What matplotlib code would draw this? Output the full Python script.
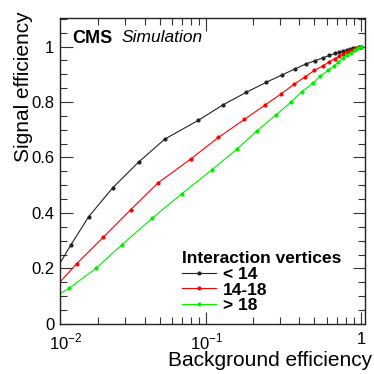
import matplotlib
matplotlib.use("Agg")
import matplotlib.pyplot as plt
from matplotlib.ticker import FixedLocator, FixedFormatter, LogLocator, MultipleLocator, NullFormatter

plt.rcParams["font.family"] = ["Liberation Sans", "DejaVu Sans"]
plt.rcParams["mathtext.fontset"] = "custom"
plt.rcParams["mathtext.rm"] = "Liberation Sans"

# ROC curves (background eff, signal eff)
bkg_lt14 = [0.0105, 0.01334, 0.01742, 0.0249, 0.0365, 0.0539, 0.0889, 0.1277, 0.1815,
            0.2442, 0.3076, 0.3733, 0.4395, 0.5058, 0.5664, 0.6253, 0.6808, 0.7263,
            0.7696, 0.809, 0.851, 0.894, 0.929, 0.966, 1.0]
sig_lt14 = [0.187, 0.285, 0.387, 0.491, 0.583, 0.666, 0.734, 0.789, 0.835,
            0.871, 0.897, 0.919, 0.937, 0.949, 0.959, 0.968, 0.975, 0.980,
            0.985, 0.988, 0.991, 0.994, 0.996, 0.998, 1.0]

bkg_mid = [0.0105, 0.01452, 0.02167, 0.0325, 0.0487, 0.0796, 0.1197, 0.1762, 0.2383,
           0.306, 0.3715, 0.4375, 0.500, 0.5664, 0.6253, 0.676, 0.7263, 0.77, 0.81,
           0.85, 0.89, 0.93, 0.97, 1.0]
sig_mid = [0.130, 0.217, 0.313, 0.412, 0.508, 0.595, 0.672, 0.737, 0.788,
           0.830, 0.865, 0.891, 0.914, 0.930, 0.945, 0.956, 0.966, 0.973, 0.979,
           0.984, 0.989, 0.993, 0.997, 1.0]

bkg_gt18 = [0.0105, 0.01295, 0.01934, 0.02858, 0.0446, 0.0697, 0.1084, 0.1578, 0.2123,
            0.2806, 0.352, 0.414, 0.4875, 0.547, 0.614, 0.670, 0.715, 0.762, 0.81,
            0.86, 0.91, 0.955, 1.0]
sig_gt18 = [0.097, 0.128, 0.200, 0.286, 0.380, 0.470, 0.555, 0.630, 0.696,
            0.752, 0.799, 0.837, 0.867, 0.894, 0.914, 0.930, 0.944, 0.957, 0.968,
            0.978, 0.987, 0.994, 1.0]

labels = ["< 14", "14-18", "> 18"]
colors = ["#222222", "#ff0000", "#00ee00"]

fig = plt.figure(figsize=(3.74, 3.74), dpi=100)
ax = fig.add_axes([0.160, 0.134, 0.816, 0.818])

for x, y, lab, c in zip([bkg_lt14, bkg_mid, bkg_gt18], [sig_lt14, sig_mid, sig_gt18],
                        labels, colors):
    ax.plot(x, y, color=c, lw=0.8, marker="o", ms=2.0, mec=c, mfc=c, label=lab)

ax.set_xscale("log")
ax.set_xlim(0.01132, 1.062)
ax.set_ylim(0, 1.103)

ax.xaxis.set_major_locator(FixedLocator([0.1, 1.0]))
ax.xaxis.set_major_formatter(FixedFormatter([r"$10^{-1}$", "1"]))
ax.xaxis.set_minor_locator(LogLocator(base=10, subs=range(2, 10), numticks=20))
ax.xaxis.set_minor_formatter(NullFormatter())
ax.yaxis.set_minor_locator(MultipleLocator(0.05))
ax.set_yticks([0, 0.2, 0.4, 0.6, 0.8, 1.0])
ax.set_yticklabels(["0", "0.2", "0.4", "0.6", "0.8", "1"])

ax.tick_params(which="both", direction="in", top=True, right=True, labelsize=12,
               color="#333333", width=0.8)
ax.tick_params(which="major", length=9)
ax.tick_params(which="minor", length=5)
ax.tick_params(axis="x", pad=6)
ax.tick_params(axis="y", pad=4)
for s in ax.spines.values():
    s.set_linewidth(1.0)
    s.set_color("#222222")

# the 10^-2 tick sits just left of the frame, ROOT still prints its label
ax.annotate(r"$10^{-2}$", xy=(0, 0), xycoords="axes fraction",
            xytext=(4.3, -6), textcoords="offset points",
            ha="center", va="top", fontsize=12)

ax.set_xlabel("Background efficiency", fontsize=15, loc="right")
ax.xaxis.set_label_coords(1.023, -0.09)
ax.set_ylabel("Signal efficiency", fontsize=15, loc="top")
ax.yaxis.set_label_coords(-0.087, 1.02)

ax.text(0.04, 0.96, "CMS", transform=ax.transAxes, fontsize=13,
        fontweight="bold", va="top", ha="left")
ax.text(0.202, 0.96, "Simulation", transform=ax.transAxes, fontsize=12.5,
        fontstyle="italic", va="top", ha="left")

leg = ax.legend(title="Interaction vertices", loc="lower left",
                bbox_to_anchor=(0.40, 0.035), frameon=False, numpoints=1,
                prop={"weight": "bold", "size": 12.5},
                title_fontproperties={"weight": "bold", "size": 12.5},
                alignment="left", handlelength=1.95, handletextpad=0.4,
                labelspacing=0.03, borderpad=0.0, borderaxespad=0.0)

fig.savefig("out.png", dpi=100)
